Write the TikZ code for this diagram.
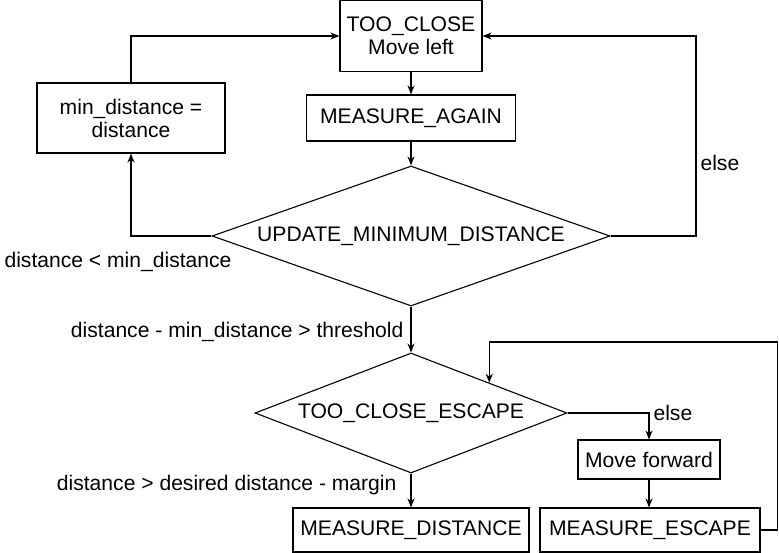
\documentclass[tikz,border=0pt]{standalone}
\usepackage{fontspec}
\setmainfont{Liberation Sans}
\usetikzlibrary{shapes}
\usetikzlibrary{arrows.meta}

\begin{document}
\begin{tikzpicture}[x=1pt, y=-1pt, line width=1.1pt, >={Stealth[length=9pt, width=7pt]},
            every node/.style={font=\fontsize{21.1}{23}\selectfont, inner sep=0pt},
            box/.style={rectangle, draw, align=center},
            cond/.style={diamond, draw}]
            \useasboundingbox (0, 0) rectangle (779, 553);

            \node[box, minimum width=142, minimum height=71] (tooclose) at (411, 36) {TOO\_CLOSE\\Move left};
            \node[box, minimum width=188, minimum height=70] (mindist) at (131, 118) {min\_distance =\\distance};
            \node[box, minimum width=209, minimum height=46] (again) at (411, 118) {MEASURE\_AGAIN};
            \node[cond, minimum width=398, minimum height=140, aspect=2.84] (update) at (411, 236) {UPDATE\_MINIMUM\_DISTANCE};
            \node[cond, minimum width=312, minimum height=120, aspect=2.6] (escape) at (411, 413) {TOO\_CLOSE\_ESCAPE};
            \node[box, minimum width=236, minimum height=44] (measdist) at (411, 530) {MEASURE\_DISTANCE};
            \node[box, minimum width=142, minimum height=39] (forward) at (649, 459.5) {Move forward};
            \node[box, minimum width=220, minimum height=44] (measesc) at (650, 530) {MEASURE\_ESCAPE};

            \node[anchor=west] (lless) at (4, 262) {distance < min\_distance};
            \node[anchor=west] (lelse) at (700, 163) {else};
            \node[anchor=east] (lthresh) at (404, 332) {distance - min\_distance > threshold};
            \node[anchor=west] (lelse2) at (653, 413) {else};
            \node[anchor=east] (lmargin) at (397, 485) {distance > desired distance - margin};

            \coordinate (right) at (696, 36);
            \coordinate (loop) at (777.5, 342);

            \draw[->] (mindist) |- (tooclose);
            \draw[->] (tooclose) -- (again);
            \draw[->] (again) -- (update);
            \draw[->] (update.west) -| (mindist.south);
            \draw[->] (update.east) -| (right) -- (tooclose.east);
            \draw[->] (update) -- (escape);
            \draw[->] (escape) -- (measdist);
            \draw[->] (escape.east) -| (forward.north);
            \draw[->] (forward.south) -- (forward.south |- measesc.north);
            \draw[->] (measesc.east) -| (loop) -| (escape.north east);
        \end{tikzpicture}
\end{document}
